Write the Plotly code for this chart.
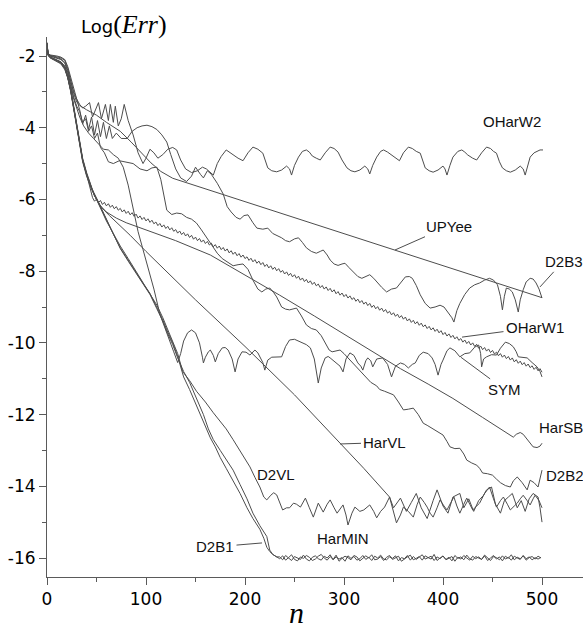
import plotly.graph_objects as go

# ---- error curves: (n, log10 error) pairs ----
OHARW2 = [(0,-1.62),(1,-1.92),(3,-1.97),(6,-1.98),(10,-2.0),(14,-2.03),(18,-2.1),(21,-2.3),(24,-2.6),(27,-2.95),
          (30,-3.2),(33,-3.35),(36,-3.45),(39,-3.4),(43,-3.3),(46,-3.7),(49,-3.5),(52,-3.3),(55,-3.75),(59,-3.35),
          (62,-3.8),(64,-3.35),(67,-3.85),(69,-3.4),(72,-3.95),(75,-3.75),(78,-3.35),(82,-3.8),(87,-4.2),(92,-4.7),
          (97,-5.0),(100,-4.85),(104,-4.6),(108,-4.7),(112,-4.85),(117,-4.75),(122,-4.6),(127,-4.55),(131,-4.62),(135,-4.9),
          (140,-5.15),(146,-5.25),(152,-5.2),(157,-5.1),(161,-5.15),(165,-5.25),(168,-5.32),(172,-5.0),(176,-4.8),(181,-4.62),
          (185,-4.7),(188,-4.76),(193,-4.85),(198,-4.92),(203,-4.7),(208,-4.54),(213,-4.6),(218,-4.71),(221,-4.95),(223,-5.12),
          (227,-5.2),(232,-5.23),(237,-5.18),(242,-5.07),(245,-5.15),(247,-5.32),(250,-5.05),(254,-4.82),(258,-4.66),(262,-4.62),
          (265,-4.68),(268,-4.79),(272,-4.85),(276,-4.9),(281,-4.7),(286,-4.54),(290,-4.58),(294,-4.68),(298,-4.9),(303,-5.12),
          (307,-5.2),(311,-5.23),(316,-5.18),(321,-5.07),(324,-5.15),(326,-5.29),(329,-5.05),(333,-4.82),(337,-4.66),(340,-4.62),
          (344,-4.68),(348,-4.76),(352,-4.85),(356,-4.92),(360,-4.7),(365,-4.54),(369,-4.58),(373,-4.66),(377,-4.71),(380,-4.95),
          (382,-5.12),(386,-5.2),(390,-5.24),(395,-5.18),(400,-5.07),(402,-5.15),(404,-5.32),(407,-5.05),(410,-4.82),(415,-4.66),
          (419,-4.62),(422,-4.68),(425,-4.76),(430,-4.85),(434,-4.9),(439,-4.7),(444,-4.54),(448,-4.58),(451,-4.66),(454,-4.71),
          (457,-4.95),(460,-5.12),(464,-5.2),(468,-5.24),(473,-5.18),(478,-5.07),(481,-5.15),(483,-5.32),(486,-5.05),(488,-4.82),
          (492,-4.7),(495,-4.65),(498,-4.62),(501,-4.62)]

D2B3 = [(0,-1.66),(1,-1.94),(3,-1.99),(6,-2.02),(10,-2.05),(14,-2.08),(18,-2.18),(21,-2.4),(24,-2.7),(27,-3.0),
        (30,-3.2),(33,-3.5),(36,-3.9),(39,-3.65),(42,-4.05),(45,-3.7),(48,-4.2),(51,-3.8),(54,-4.25),(57,-3.85),
        (60,-4.3),(63,-3.95),(66,-4.3),(70,-4.15),(75,-4.3),(81,-4.3),(86,-4.1),(91,-4.0),(96,-3.95),(101,-3.93),
        (106,-3.97),(111,-4.05),(116,-4.2),(121,-4.4),(125,-4.75),(130,-5.15),(135,-5.4),(141,-5.5),(146,-5.35),(150,-5.1),
        (155,-5.3),(158,-5.4),(162,-5.2),(166,-5.3),(172,-5.55),(178,-5.85),(182,-6.2),(186,-6.35),(191,-6.5),(195,-6.55),
        (199,-6.45),(203,-6.43),(208,-6.65),(212,-6.8),(218,-6.83),(223,-6.8),(228,-6.95),(232,-7.0),(237,-7.07),(241,-7.15),
        (245,-7.18),(250,-7.1),(254,-7.07),(258,-7.2),(262,-7.35),(267,-7.45),(272,-7.5),(276,-7.45),(279,-7.41),(283,-7.55),
        (286,-7.69),(290,-7.8),(294,-7.84),(298,-7.8),(301,-7.78),(305,-7.9),(309,-8.02),(314,-8.15),(318,-8.2),(322,-8.15),
        (326,-8.1),(330,-8.2),(333,-8.3),(338,-8.45),(343,-8.58),(348,-8.5),(353,-8.47),(358,-8.3),(362,-8.16),(366,-8.15),
        (369,-8.2),(373,-8.4),(377,-8.66),(382,-8.9),(387,-9.03),(392,-9.0),(397,-8.95),(401,-9.0),(405,-9.14),(409,-9.3),
        (411,-9.42),(414,-9.1),(417,-8.9),(422,-8.65),(427,-8.47),(432,-8.38),(437,-8.33),(442,-8.25),(447,-8.2),(451,-8.25),
        (455,-8.38),(458,-8.7),(460,-9.08),(462,-8.7),(464,-8.47),(467,-8.5),(470,-8.58),(473,-8.8),(476,-9.14),(478,-8.8),
        (481,-8.52),(484,-8.3),(488,-8.2),(491,-8.22),(494,-8.33),(497,-8.5),(500,-8.75)]

UPYEE = [(0,-1.64),(1,-1.93),(3,-1.98),(6,-2.0),(10,-2.02),(14,-2.05),(18,-2.12),(21,-2.35),(24,-2.7),(27,-3.05),
         (30,-3.28),(33,-3.38),(40,-3.5),(50,-3.65),(60,-3.85),(74,-4.1),(85,-4.4),(95,-4.7),(105,-4.98),(115,-5.22),
         (127,-5.41),(500,-8.74)]

D2B2 = [(0,-1.65),(1,-1.95),(3,-2.0),(6,-2.03),(10,-2.06),(14,-2.1),(18,-2.2),(21,-2.45),(24,-2.8),(27,-3.15),
        (30,-3.4),(33,-3.55),(36,-3.85),(39,-3.75),(42,-4.1),(45,-3.95),(48,-4.3),(51,-4.15),(54,-4.55),(58,-4.7),
        (62,-4.95),(67,-5.0),(73,-4.92),(80,-4.95),(87,-5.0),(94,-5.15),(101,-5.2),(106,-5.12),(111,-5.1),(115,-5.45),
        (118,-5.9),(121,-6.3),(126,-6.42),(131,-6.38),(136,-6.4),(141,-6.5),(146,-6.55),(151,-6.66),(156,-6.85),(162,-7.1),
        (167,-7.3),(172,-7.5),(177,-7.65),(182,-7.75),(188,-7.85),(193,-7.82),(198,-7.8),(203,-7.95),(208,-8.25),(213,-8.5),
        (217,-8.58),(221,-8.5),(225,-8.47),(229,-8.6),(232,-8.72),(237,-9.0),(241,-9.06),(245,-9.08),(249,-9.05),(252,-9.03),
        (257,-9.25),(262,-9.5),(267,-9.6),(272,-9.64),(277,-9.8),(281,-10.0),(285,-10.2),(288,-10.25),(292,-10.22),(296,-10.2),
        (300,-10.3),(303,-10.39),(306,-10.48),(309,-10.56),(315,-10.75),(320,-10.9),(327,-11.1),(333,-11.2),(336,-11.3),(341,-11.35),
        (346,-11.4),(350,-11.45),(355,-11.65),(360,-11.87),(365,-11.85),(370,-11.82),(375,-12.0),(380,-12.24),(384,-12.3),(387,-12.35),
        (393,-12.45),(400,-12.57),(404,-12.75),(407,-12.9),(412,-12.95),(417,-12.94),(421,-13.1),(424,-13.27),(429,-13.35),(434,-13.41),
        (437,-13.5),(440,-13.63),(445,-13.65),(450,-13.69),(454,-13.8),(458,-13.9),(463,-13.98),(468,-14.02),(471,-13.85),(475,-13.74),
        (480,-13.9),(485,-14.1),(488,-13.83),(492,-13.9),(496,-14.02),(500,-13.55)]

SYM = [(0,-1.66),(1,-1.96),(3,-2.02),(6,-2.06),(10,-2.1),(14,-2.16),(18,-2.28),(21,-2.5),(24,-2.85),(27,-3.2),
       (30,-3.45),(33,-3.7),(37,-3.95),(42,-4.15),(47,-4.3),(52,-4.45),(57,-4.6),(62,-4.62),(67,-4.75),(72,-4.85),
       (77,-5.1),(82,-5.6),(87,-6.3),(92,-6.9),(97,-7.4),(102,-7.9),(108,-8.5),(114,-9.2),(119,-9.6),(124,-9.95),
       (128,-10.25),(132,-10.55),(135,-10.3),(138,-9.95),(142,-9.72),(146,-9.64),(150,-9.72),(154,-10.0),(157,-10.4),(158,-10.56),
       (160,-10.4),(163,-10.25),(165,-10.2),(168,-10.35),(170,-10.53),(173,-10.3),(177,-10.14),(180,-10.13),(183,-10.2),(187,-10.45),
       (190,-10.81),(193,-10.45),(197,-10.25),(201,-10.26),(205,-10.34),(208,-10.25),(210,-10.2),(213,-10.28),(215,-10.39),(218,-10.55),
       (220,-10.76),(223,-10.48),(227,-10.4),(232,-10.39),(237,-10.39),(241,-10.1),(245,-9.92),(250,-9.9),(256,-9.98),(262,-10.05),
       (266,-10.14),(270,-10.45),(274,-11.12),(277,-10.7),(281,-10.42),(284,-10.38),(286,-10.42),(291,-10.53),(296,-10.65),(299,-10.81),
       (302,-10.45),(306,-10.28),(310,-10.35),(314,-10.56),(317,-10.65),(319,-10.76),(322,-10.5),(324,-10.42),(327,-10.5),(329,-10.67),
       (333,-10.45),(339,-10.42),(344,-10.6),(348,-10.95),(352,-10.65),(357,-10.56),(361,-10.6),(365,-10.7),(369,-10.6),(372,-10.56),
       (376,-10.35),(380,-10.26),(385,-10.3),(389,-10.42),(392,-10.6),(395,-10.9),(398,-10.6),(400,-10.48),(404,-10.22),(407,-10.14),
       (412,-10.22),(417,-10.39),(422,-10.3),(427,-10.28),(432,-10.12),(436,-10.06),(438,-10.3),(439,-10.67),(441,-10.45),(444,-10.39),
       (449,-10.33),(454,-10.34),(458,-10.15),(463,-9.98),(467,-10.02),(471,-10.11),(474,-10.25),(476,-10.39),(480,-10.4),(485,-10.42),
       (490,-10.55),(495,-10.67),(498,-10.8),(500,-10.95)]

# OHarW1: fast descent, then a finely serrated decay sampled every 2 steps from n = 46
OHARW1_HEAD = [(0,-1.67),(1,-1.97),(3,-2.04),(6,-2.08),(10,-2.12),(14,-2.18),(18,-2.32),(21,-2.58),(24,-2.95),(27,-3.45),
               (30,-4.0),(33,-4.5),(36,-4.9),(40,-5.3),(43,-5.6)]
OHARW1_SERRATED = [
    -5.95,-6.05,-5.99,-6.09,-6.03,-6.14,-6.08,-6.18,-6.12,-6.22,-6.16,-6.26,-6.20,-6.30,-6.25,-6.35,-6.29,-6.39,-6.33,-6.43,
    -6.37,-6.47,-6.41,-6.52,-6.46,-6.56,-6.50,-6.60,-6.54,-6.64,-6.58,-6.68,-6.63,-6.73,-6.67,-6.77,-6.71,-6.81,-6.75,-6.85,
    -6.79,-6.89,-6.84,-6.94,-6.88,-6.98,-6.92,-7.02,-6.96,-7.06,-7.00,-7.11,-7.05,-7.15,-7.09,-7.19,-7.13,-7.23,-7.17,-7.27,
    -7.22,-7.32,-7.26,-7.36,-7.30,-7.40,-7.34,-7.44,-7.38,-7.49,-7.43,-7.53,-7.47,-7.57,-7.51,-7.61,-7.55,-7.65,-7.60,-7.70,
    -7.64,-7.74,-7.68,-7.78,-7.72,-7.82,-7.76,-7.87,-7.81,-7.91,-7.85,-7.95,-7.89,-7.99,-7.93,-8.03,-7.98,-8.08,-8.02,-8.12,
    -8.06,-8.16,-8.10,-8.20,-8.14,-8.25,-8.19,-8.29,-8.23,-8.33,-8.27,-8.37,-8.31,-8.41,-8.36,-8.46,-8.40,-8.50,-8.44,-8.54,
    -8.48,-8.58,-8.52,-8.63,-8.57,-8.67,-8.61,-8.71,-8.65,-8.75,-8.69,-8.79,-8.74,-8.84,-8.78,-8.88,-8.82,-8.92,-8.86,-8.96,
    -8.90,-9.01,-8.95,-9.05,-8.99,-9.09,-9.03,-9.13,-9.07,-9.17,-9.12,-9.22,-9.16,-9.26,-9.20,-9.30,-9.24,-9.34,-9.28,-9.39,
    -9.33,-9.43,-9.37,-9.47,-9.41,-9.51,-9.45,-9.55,-9.50,-9.60,-9.54,-9.64,-9.58,-9.68,-9.62,-9.72,-9.66,-9.77,-9.71,-9.81,
    -9.75,-9.85,-9.79,-9.89,-9.83,-9.93,-9.88,-9.98,-9.92,-10.02,-9.96,-10.06,-10.00,-10.10,-10.04,-10.15,-10.09,-10.19,-10.13,-10.23,
    -10.17,-10.27,-10.21,-10.31,-10.26,-10.36,-10.30,-10.40,-10.34,-10.44,-10.38,-10.48,-10.42,-10.53,-10.47,-10.57,-10.51,-10.61,-10.55,-10.65,
    -10.59,-10.69,-10.64,-10.74,-10.68,-10.78,-10.72,-10.82]

HARSB = [(0,-1.66),(1,-1.96),(3,-2.03),(6,-2.07),(10,-2.11),(14,-2.17),(18,-2.3),(21,-2.56),(24,-2.92),(27,-3.42),
         (30,-3.95),(33,-4.45),(36,-4.85),(40,-5.25),(44,-5.6),(48,-5.9),(53,-6.15),(60,-6.35),(70,-6.52),(80,-6.65),
         (100,-6.85),(130,-7.15),(165,-7.55),(200,-8.1),(235,-8.67),(270,-9.25),(300,-9.75),(330,-10.25),(357,-10.72),(385,-11.15),
         (410,-11.55),(440,-12.08),(471,-12.63),(474,-12.55),(478,-12.5),(481,-12.55),(485,-12.7),(488,-12.82),(491,-12.9),(495,-12.92),
         (498,-12.88),(500,-12.8)]

HARVL = [(0,-1.65),(1,-1.95),(3,-2.03),(6,-2.08),(10,-2.12),(14,-2.19),(18,-2.34),(21,-2.6),(24,-2.96),(27,-3.44),
         (30,-3.98),(33,-4.48),(36,-4.88),(40,-5.28),(44,-5.6),(48,-5.9),(55,-6.22),(63,-6.45),(84,-7.0),(100,-7.45),
         (150,-8.8),(200,-10.1),(250,-11.45),(296,-12.8),(320,-13.5),(346,-14.3),(350,-14.6),(357,-14.33),(363,-14.7),(368,-14.45),
         (373,-14.2),(378,-14.6),(384,-14.9),(390,-14.4),(394,-14.1),(400,-14.55),(405,-14.75),(410,-14.3),(417,-14.2),(421,-14.6),
         (426,-14.35),(431,-14.7),(436,-14.4),(441,-14.25),(444,-14.1),(449,-14.02),(453,-14.5),(458,-14.75),(462,-14.4),(466,-14.3),
         (470,-14.2),(475,-14.6),(479,-14.4),(483,-14.7),(487,-14.35),(491,-14.2),(496,-14.3),(498,-14.6),(500,-15.0)]

D2VL = [(0,-1.67),(1,-1.98),(3,-2.05),(6,-2.1),(10,-2.15),(14,-2.22),(18,-2.38),(21,-2.62),(24,-3.0),(27,-3.5),
        (30,-4.05),(33,-4.55),(36,-4.95),(40,-5.35),(45,-5.72),(50,-6.0),(55,-6.3),(60,-6.6),(67,-6.95),(74,-7.3),
        (82,-7.65),(91,-8.05),(98,-8.35),(104,-8.6),(111,-8.95),(117,-9.3),(122,-9.62),(127,-9.95),(132,-10.3),(137,-10.8),
        (144,-11.05),(151,-11.35),(160,-11.65),(168,-11.95),(175,-12.2),(181,-12.4),(188,-12.7),(196,-13.05),(205,-13.46),(210,-13.75),
        (215,-14.02),(219,-14.3),(222,-14.38),(226,-14.25),(229,-14.18),(232,-14.24),(235,-14.45),(238,-14.66),(242,-14.6),(245,-14.6),
        (249,-14.47),(252,-14.5),(256,-14.58),(261,-14.33),(265,-14.6),(269,-14.86),(274,-14.47),(279,-14.72),(283,-14.5),(286,-14.38),
        (290,-14.6),(293,-14.75),(299,-14.52),(302,-14.8),(304,-15.08),(308,-14.75),(311,-14.58),(316,-14.7),(320,-14.66),(326,-14.52),
        (330,-14.7),(333,-14.88),(337,-14.7),(341,-14.58),(346,-14.3),(350,-14.7),(353,-15.02),(357,-14.8),(360,-14.58),(365,-14.7),
        (370,-14.86),(374,-14.5),(377,-14.3),(381,-14.45),(384,-14.58),(387,-14.75),(390,-14.86),(394,-14.6),(397,-14.38),(401,-14.55),
        (404,-14.66),(408,-14.45),(411,-14.3),(414,-14.55),(417,-14.75),(421,-14.5),(424,-14.33),(427,-14.5),(430,-14.66),(434,-14.55),
        (437,-14.47),(442,-14.2),(447,-14.02),(451,-14.35),(454,-14.58),(458,-14.4),(461,-14.3),(465,-14.5),(468,-14.66),(472,-14.55),
        (475,-14.47),(478,-14.35),(481,-14.25),(485,-14.4),(488,-14.52),(491,-14.35),(493,-14.25),(497,-14.4),(500,-14.6)]

D2B1_HEAD = [(0,-1.66),(1,-1.97),(3,-2.04),(6,-2.09),(10,-2.13),(14,-2.2),(18,-2.35),(21,-2.6),(24,-2.98),(27,-3.48),
             (30,-4.02),(33,-4.52),(36,-4.92),(40,-5.32),(45,-5.7),(50,-5.98),(55,-6.28),(60,-6.58),(67,-6.97),(74,-7.35),
             (82,-7.7),(91,-8.08),(98,-8.38),(104,-8.62),(111,-9.0),(117,-9.36),(122,-9.7),(127,-10.0),(132,-10.38),(138,-10.95),
             (144,-11.3),(151,-11.75),(158,-12.24),(165,-12.65),(170,-12.9),(175,-13.2),(181,-13.5),(188,-13.83),(195,-14.2),(202,-14.6),
             (208,-14.9),(215,-15.2),(219,-15.45),(222,-15.7),(225,-15.82),(228,-15.9),(232,-15.98)]
# round-off floor, sampled every 3 steps from n = 235
D2B1_FLOOR = [-16.02,-15.94,-16.06,-15.99,-15.91,-16.04,-16.08,-15.97,-16.01,-15.93,
              -15.98,-16.07,-16.03,-15.95,-15.90,-16.00,-16.06,-15.96,-16.04,-15.92,
              -16.09,-16.01,-15.95,-15.99,-16.05,-15.93,-15.97,-16.08,-16.02,-15.94,
              -16.00,-15.91,-16.05,-16.03,-15.96,-16.07,-15.98,-15.93,-16.04,-16.00,
              -15.95,-16.09,-16.02,-15.97,-15.92,-16.05,-16.01,-15.96,-16.06,-15.94,
              -15.99,-16.03,-15.90,-16.07,-16.00,-15.95,-16.04,-15.98,-16.08,-15.93,
              -16.01,-15.97,-16.05,-15.92,-16.02,-16.06,-15.96,-15.99,-16.04,-15.94,
              -16.07,-16.00,-15.93,-16.03,-15.97,-16.08,-15.95,-16.01,-15.91,-16.05,
              -15.98,-16.02,-15.94,-16.06,-15.99,-15.96,-16.03,-15.95,-16.00]

HARMIN_HEAD = [(0,-1.65),(1,-1.96),(3,-2.03),(6,-2.07),(10,-2.12),(14,-2.18),(18,-2.33),(21,-2.59),(24,-2.97),(27,-3.46),
               (30,-4.0),(33,-4.5),(36,-4.9),(40,-5.3),(45,-5.68),(50,-5.96),(55,-6.26),(60,-6.56),(67,-6.95),(74,-7.37),
               (82,-7.72),(91,-8.1),(98,-8.4),(104,-8.65),(111,-9.05),(117,-9.4),(122,-9.75),(127,-10.05),(132,-10.42),(138,-10.8),
               (144,-11.1),(151,-11.55),(158,-12.0),(163,-12.4),(168,-12.7),(175,-13.0),(182,-13.3),(188,-13.55),(195,-13.95),(202,-14.35),
               (208,-14.75),(215,-15.1),(222,-15.4),(225,-15.78),(228,-15.9),(232,-15.97)]
HARMIN_FLOOR = [-15.97,-16.05,-15.93,-16.01,-16.07,-15.96,-15.99,-16.04,-15.92,-16.03,
                -16.08,-15.98,-15.94,-16.02,-16.06,-15.95,-16.00,-15.91,-16.05,-15.97,
                -16.03,-15.99,-16.09,-15.94,-16.01,-15.96,-16.06,-16.02,-15.93,-16.04,
                -15.98,-16.07,-15.95,-16.00,-15.92,-16.03,-16.05,-15.97,-16.01,-15.94,
                -16.08,-15.99,-16.02,-15.93,-16.06,-15.96,-16.04,-15.98,-15.91,-16.03,
                -16.00,-15.95,-16.07,-15.97,-16.02,-15.94,-16.05,-16.01,-15.96,-16.09,
                -15.98,-16.03,-15.93,-16.00,-16.06,-15.95,-16.02,-15.97,-16.04,-15.92,
                -16.01,-16.07,-15.96,-15.99,-16.05,-15.94,-16.03,-15.98,-16.06,-15.95,
                -16.00,-16.04,-15.93,-16.02,-15.97,-16.05,-15.99,-16.03,-15.98]

# axis ticks
X_TICKS = [0, 100, 200, 300, 400, 500]
X_TICK_TEXT = ["0", "100", "200", "300", "400", "500"]
X_MINOR = [50, 150, 250, 350, 450]
Y_TICKS = [-2, -4, -6, -8, -10, -12, -14, -16]
Y_TICK_TEXT = ["-2", "-4", "-6", "-8", "-10", "-12", "-14", "-16"]
Y_MINOR = [-3, -5, -7, -9, -11, -13, -15]

# curve labels: text, label centre (n, log err), leader end point or None
LABELS = [
    ("OHarW2", 469.7, -3.84, None),
    ("UPYee", 405.6, -6.75, (351.5, -7.41)),
    ("D2B3", 521.7, -7.72, (498.0, -8.44)),
    ("OHarW1", 492.9, -9.57, (419.2, -9.84)),
    ("SYM", 462.1, -11.3, (418.0, -10.4)),
    ("HarVL", 341.4, -12.78, (296.0, -12.82)),
    ("D2VL", 231.8, -13.66, None),
    ("HarMIN", 298.5, -15.47, None),
    ("D2B1", 169.7, -15.69, (217.2, -15.58)),
]
EDGE_LABELS = [("HarSB", 494.5, -12.37), ("D2B2", 502.5, -13.71)]


def xy(pairs):
    xs, ys = zip(*pairs)
    return list(xs), list(ys)


def floor_xy(head, floor, start, step):
    xs, ys = xy(head)
    xs += [start + step * i for i in range(len(floor))]
    ys += floor
    return xs, ys


curves = {
    "OHarW2": xy(OHARW2),
    "D2B3": xy(D2B3),
    "UPYee": xy(UPYEE),
    "D2B2": xy(D2B2),
    "SYM": xy(SYM),
    "OHarW1": floor_xy(OHARW1_HEAD, OHARW1_SERRATED, 46, 2),
    "HarSB": xy(HARSB),
    "HarVL": xy(HARVL),
    "D2VL": xy(D2VL),
    "D2B1": floor_xy(D2B1_HEAD, D2B1_FLOOR, 235, 3),
    "HarMIN": floor_xy(HARMIN_HEAD, HARMIN_FLOOR, 235, 3),
}

LINE = "#4d4d4d"
AXIS = "#5a5a5a"
LABEL_FONT = dict(family="Liberation Sans, Arial, sans-serif", size=15, color="#111111")

fig = go.Figure()
for name, (xs, ys) in curves.items():
    fig.add_trace(go.Scatter(x=xs, y=ys, mode="lines", name=name,
                             line=dict(color=LINE, width=1), hoverinfo="skip"))

for text, tx, ty, tip in LABELS:
    if tip is None:
        fig.add_annotation(x=tx, y=ty, text=text, showarrow=False, font=LABEL_FONT)
    else:
        fig.add_annotation(x=tip[0], y=tip[1], ax=tx, ay=ty, axref="x", ayref="y",
                           text=text, showarrow=True, arrowhead=0, arrowwidth=1,
                           arrowcolor=LINE, standoff=0, startstandoff=1, font=LABEL_FONT)
for text, tx, ty in EDGE_LABELS:
    fig.add_annotation(x=tx, y=ty, text=text, showarrow=False, xanchor="left", font=LABEL_FONT)

# axis titles
fig.add_annotation(xref="paper", yref="paper", x=0.1437, y=1.024, xanchor="center", yanchor="middle",
                   showarrow=False,
                   text="Log<span style='font-family:Liberation Serif, serif;font-size:26px'>(<i>Err</i>)</span>",
                   font=dict(family="DejaVu Sans, sans-serif", size=18, color="#000000"))
fig.add_annotation(xref="paper", yref="paper", x=0.465, y=-0.066, xanchor="center", yanchor="middle",
                   showarrow=False, text="<i>n</i>",
                   font=dict(family="Liberation Serif, serif", size=30, color="#000000"))

axis_common = dict(showgrid=False, zeroline=False, showline=True, linecolor=AXIS, linewidth=1,
                   ticks="outside", ticklen=7, tickwidth=1, tickcolor=AXIS,
                   tickfont=dict(family="DejaVu Sans, sans-serif", size=17, color="#000000"))
fig.update_xaxes(range=[0, 541.4], tickmode="array", tickvals=X_TICKS, ticktext=X_TICK_TEXT,
                 minor=dict(tickvals=X_MINOR, ticks="outside", ticklen=4, tickcolor=AXIS, tickwidth=1),
                 **axis_common)
fig.update_yaxes(range=[-16.53, -1.47], tickmode="array", tickvals=Y_TICKS, ticktext=Y_TICK_TEXT,
                 minor=dict(tickvals=Y_MINOR, ticks="outside", ticklen=4, tickcolor=AXIS, tickwidth=1),
                 **axis_common)
fig.update_layout(width=583, height=628, margin=dict(l=47, r=0, t=37, b=51),
                  paper_bgcolor="white", plot_bgcolor="white", showlegend=False)

fig.write_html("out.html")
